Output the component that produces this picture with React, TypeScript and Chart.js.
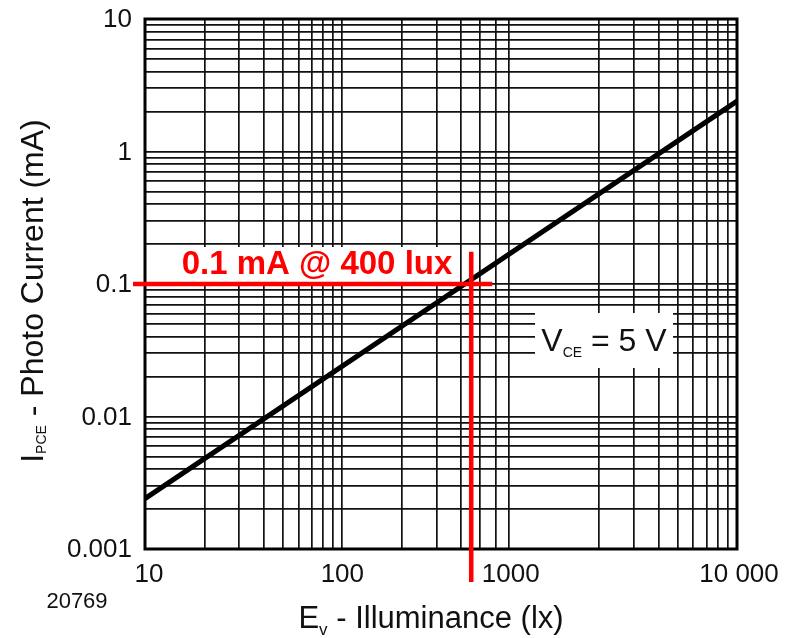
import { useEffect, useRef } from "react";
import { Chart, registerables } from "chart.js";

Chart.register(...registerables);

// ---- data ----
const illuminanceLux = [10, 100, 1000, 10000];
const photoCurrentMA = [0.0024, 0.024, 0.24, 2.4];

const xMin = 10;
const xMax = 10000;
const yMin = 0.001;
const yMax = 10;

const xTickValues = [10, 100, 1000, 10000];
const xTickLabels = ["10", "100", "1000", "10 000"];
const yTickValues = [0.001, 0.01, 0.1, 1, 10];
const yTickLabels = ["0.001", "0.01", "0.1", "1", "10"];

// grid lines that are absent in the reference
const hiddenXGridLux = [800, 900, 1000];

// red marker annotation
const markerLux = 450;
const markerMA = 0.1;
const markerLineEndLux = 575;
const markerLineTopMA = 0.175;
const markerText = "0.1 mA @ 400 lux";
const figureNumber = "20769";

// ---- helpers ----
function logTicks(min: number, max: number): number[] {
  const out: number[] = [];
  const e0 = Math.round(Math.log10(min));
  const e1 = Math.round(Math.log10(max));
  for (let e = e0; e < e1; e++) {
    for (let m = 1; m < 10; m++) out.push(Number((m * Math.pow(10, e)).toPrecision(6)));
  }
  out.push(max);
  return out;
}

function close(a: number, b: number) {
  return Math.abs(a - b) <= Math.abs(b) * 1e-6;
}

type Part = { text: string; font: string; dy: number };

function drawParts(ctx: CanvasRenderingContext2D, parts: Part[], cx: number, y: number) {
  let total = 0;
  const widths = parts.map((p) => {
    ctx.font = p.font;
    const w = ctx.measureText(p.text).width;
    total += w;
    return w;
  });
  let x = cx - total / 2;
  ctx.textAlign = "left";
  ctx.textBaseline = "alphabetic";
  parts.forEach((p, i) => {
    ctx.font = p.font;
    ctx.fillText(p.text, x, y + p.dy);
    x += widths[i];
  });
}

const FONT = '"Liberation Sans", Arial, sans-serif';
const TEXT = "#111";
const GRID = "#111";

const xTickLabelShift = [4, 0, -29, 2];

const decorPlugin = {
  id: "decor",
  beforeDatasetsDraw(chart: any) {
    const ctx: CanvasRenderingContext2D = chart.ctx;
    const ys = chart.scales.y;
    ctx.save();
    // white box behind red label
    const ym = ys.getPixelForValue(markerMA);
    ctx.fillStyle = "#fff";
    ctx.fillRect(176, ym - 37, 282, 35);
    // V_CE box
    ctx.fillRect(535, 313, 138, 55);
    ctx.fillStyle = TEXT;
    drawParts(
      ctx,
      [
        { text: "V", font: `32px ${FONT}`, dy: 0 },
        { text: "CE", font: `14px ${FONT}`, dy: 6 },
        { text: " = 5 V", font: `32px ${FONT}`, dy: 0 },
      ],
      604,
      351
    );
    // red label text
    ctx.fillStyle = "#ff0000";
    drawParts(ctx, [{ text: markerText, font: `bold 33px ${FONT}`, dy: 0 }], 317, ym - 10);
    ctx.restore();
  },
  afterDatasetsDraw(chart: any) {
    const ctx: CanvasRenderingContext2D = chart.ctx;
    const xs = chart.scales.x;
    const ys = chart.scales.y;
    const a = chart.chartArea;
    ctx.save();
    // plot border
    ctx.strokeStyle = "#000";
    ctx.lineWidth = 3;
    ctx.strokeRect(a.left, a.top, a.right - a.left, a.bottom - a.top);

    // red marker lines
    const xm = xs.getPixelForValue(markerLux);
    const ym = ys.getPixelForValue(markerMA);
    ctx.strokeStyle = "#ff0000";
    ctx.lineWidth = 4.5;
    ctx.beginPath();
    ctx.moveTo(a.left - 12, ym);
    ctx.lineTo(xs.getPixelForValue(markerLineEndLux), ym);
    ctx.stroke();
    ctx.beginPath();
    ctx.moveTo(xm, ys.getPixelForValue(markerLineTopMA));
    ctx.lineTo(xm, a.bottom + 33);
    ctx.stroke();

    // tick labels
    ctx.fillStyle = TEXT;
    ctx.font = `26px ${FONT}`;
    ctx.textAlign = "center";
    ctx.textBaseline = "middle";
    xTickValues.forEach((v, i) => {
      ctx.fillText(xTickLabels[i], xs.getPixelForValue(v) + xTickLabelShift[i], a.bottom + 26);
    });
    ctx.textAlign = "right";
    yTickValues.forEach((v, i) => {
      ctx.fillText(yTickLabels[i], a.left - 13, ys.getPixelForValue(v) + 1);
    });

    // x title
    drawParts(
      ctx,
      [
        { text: "E", font: `31px ${FONT}`, dy: 0 },
        { text: "v", font: `17px ${FONT}`, dy: 7 },
        { text: " - Illuminance (lx)", font: `31px ${FONT}`, dy: 0 },
      ],
      431,
      628
    );

    // y title
    ctx.save();
    ctx.translate(43, 291);
    ctx.rotate(-Math.PI / 2);
    drawParts(
      ctx,
      [
        { text: "I", font: `32px ${FONT}`, dy: 0 },
        { text: "PCE", font: `14px ${FONT}`, dy: 3 },
        { text: " - Photo Current (mA)", font: `32px ${FONT}`, dy: 0 },
      ],
      0,
      0
    );
    ctx.restore();

    // figure number
    ctx.font = `22px ${FONT}`;
    ctx.textAlign = "center";
    ctx.textBaseline = "middle";
    ctx.fillText(figureNumber, 77, 602);
    ctx.restore();
  },
};

export default function App() {
  const ref = useRef<HTMLCanvasElement | null>(null);

  useEffect(() => {
    if (!ref.current) return;
    const chart = new Chart(ref.current, {
      type: "scatter",
      data: {
        datasets: [
          {
            data: illuminanceLux.map((x, i) => ({ x, y: photoCurrentMA[i] })),
            showLine: true,
            borderColor: "#000",
            borderWidth: 5,
            pointRadius: 0,
            pointHoverRadius: 0,
          },
        ],
      },
      options: {
        responsive: false,
        animation: false,
        events: [],
        layout: { padding: { left: 0, right: 57, top: 19, bottom: 0 } },
        plugins: {
          legend: { display: false },
          tooltip: { enabled: false },
        },
        scales: {
          x: {
            type: "logarithmic",
            min: xMin,
            max: xMax,
            afterBuildTicks: (s: any) => {
              s.ticks = logTicks(xMin, xMax).map((v) => ({ value: v }));
            },
            afterFit: (s: any) => {
              s.height = 89;
            },
            border: { display: false },
            grid: {
              drawTicks: false,
              lineWidth: 1.7,
              color: (c: any) =>
                c.tick && hiddenXGridLux.some((h) => close(c.tick.value, h)) ? "rgba(0,0,0,0)" : GRID,
            },
            ticks: { display: false, autoSkip: false },
          },
          y: {
            type: "logarithmic",
            min: yMin,
            max: yMax,
            afterBuildTicks: (s: any) => {
              s.ticks = logTicks(yMin, yMax).map((v) => ({ value: v }));
            },
            afterFit: (s: any) => {
              s.width = 145;
            },
            border: { display: false },
            grid: { drawTicks: false, lineWidth: 1.7, color: GRID },
            ticks: { display: false, autoSkip: false },
          },
        },
      },
      plugins: [decorPlugin],
    } as any);
    return () => chart.destroy();
  }, []);

  return (
    <div style={{ position: "fixed", left: 0, top: 0, width: 794, height: 638, background: "#fff" }}>
      <canvas ref={ref} width={794} height={638} style={{ width: 794, height: 638 }} />
    </div>
  );
}
